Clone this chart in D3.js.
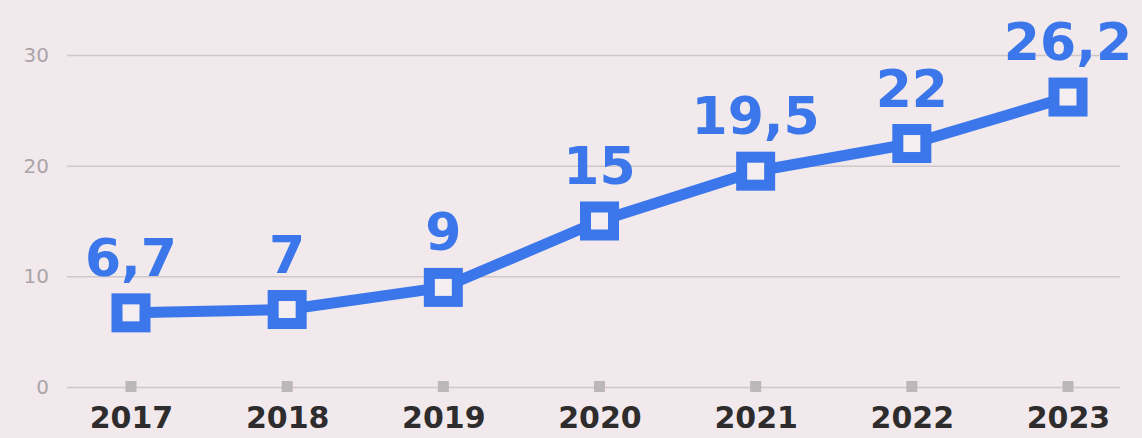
<!DOCTYPE html>
<html>
<head>
<meta charset="utf-8">
<script src="https://cdn.jsdelivr.net/npm/d3@7"></script>
<style>
  html, body { margin: 0; padding: 0; background: #f1e9ec; }
  svg { display: block; }
</style>
</head>
<body>
<svg id="chart"></svg>
<script>
// data
var years = ["2017", "2018", "2019", "2020", "2021", "2022", "2023"];
var values = [6.7, 7, 9, 15, 19.5, 22, 26.2];
var valueLabels = ["6,7", "7", "9", "15", "19,5", "22", "26,2"];
var yTicks = [0, 10, 20, 30];

var W = 1142, H = 438;
var blue = "#3b77ea";

var svg = d3.select("#chart")
    .attr("width", W)
    .attr("height", H);

svg.append("rect")
    .attr("width", W).attr("height", H)
    .attr("fill", "#f1e9ec");

var xScale = d3.scalePoint().domain(years).range([131, 1068]),
    yScale = d3.scaleLinear().domain([0, 30]).range([387, 55]);

// grid + y labels
var yAxis = svg.append("g")
    .attr("transform", "translate(67,0)")
    .call(d3.axisLeft(yScale).tickValues(yTicks).tickSize(-1053).tickPadding(18));
yAxis.select(".domain").remove();
yAxis.selectAll(".tick line")
    .attr("stroke", "#cfc7ca")
    .attr("stroke-width", 1.5);
yAxis.selectAll(".tick text")
    .attr("fill", "#aba4a7")
    .style("font-family", "'DejaVu Sans', sans-serif")
    .style("font-size", "20px");

// x tick squares
svg.append("g")
    .selectAll("rect")
    .data(years)
    .enter()
    .append("rect")
    .attr("x", function (d) { return xScale(d) - 5.5; })
    .attr("y", yScale(0) - 6)
    .attr("width", 11)
    .attr("height", 11)
    .attr("fill", "#bcb7b9");

// x labels
var xAxis = svg.append("g")
    .attr("transform", "translate(0," + yScale(0) + ")")
    .call(d3.axisBottom(xScale).tickSize(0).tickPadding(20));
xAxis.select(".domain").remove();
xAxis.selectAll(".tick text")
    .attr("fill", "#2f2c2e")
    .style("font-family", "'DejaVu Sans', sans-serif")
    .style("font-weight", "bold")
    .style("font-size", "30px");

// line
var line = d3.line()
    .x(function (d, i) { return xScale(years[i]); })
    .y(function (d) { return yScale(d); });

svg.append("path")
    .datum(values)
    .attr("d", line)
    .style("fill", "none")
    .style("stroke", blue)
    .style("stroke-width", 11)
    .style("stroke-linejoin", "round");

// markers
svg.append("g")
    .selectAll("rect")
    .data(values)
    .enter()
    .append("rect")
    .attr("x", function (d, i) { return xScale(years[i]) - 14; })
    .attr("y", function (d) { return yScale(d) - 14; })
    .attr("width", 28)
    .attr("height", 28)
    .attr("fill", "#f4eef0")
    .attr("stroke", blue)
    .attr("stroke-width", 11);

// value labels
svg.append("g")
    .selectAll("text")
    .data(values)
    .enter()
    .append("text")
    .attr("x", function (d, i) { return xScale(years[i]); })
    .attr("y", function (d) { return yScale(d) - 37; })
    .attr("text-anchor", "middle")
    .attr("fill", blue)
    .style("font-family", "'DejaVu Sans', sans-serif")
    .style("font-weight", "bold")
    .style("font-size", "52px")
    .text(function (d, i) { return valueLabels[i]; });
</script>
</body>
</html>
